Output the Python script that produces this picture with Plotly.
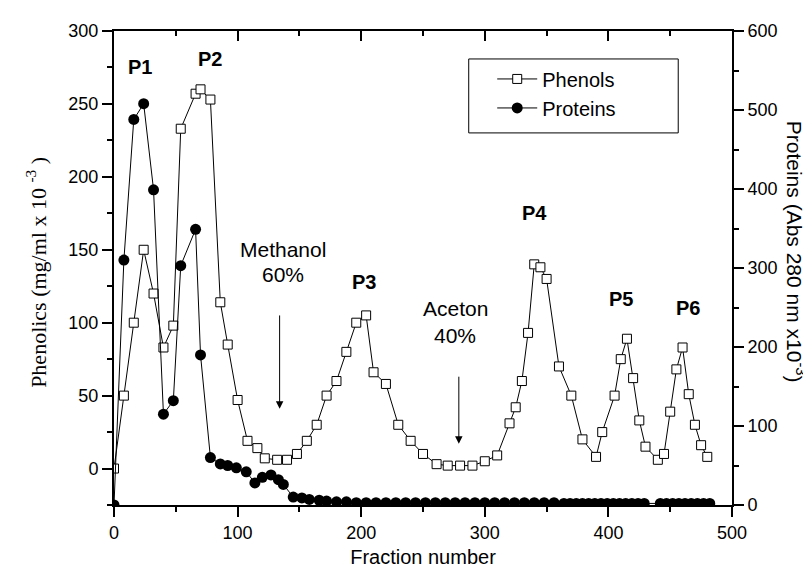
import plotly.graph_objects as go

# Phenols (open squares) - left axis
phen_x = [0, 8, 16, 24, 32, 40, 48, 54, 66, 70, 78, 86, 92, 100, 108, 116, 122, 132, 140,
          148, 156, 164, 172, 180, 188, 196, 204, 210, 220, 230, 240, 250, 261, 270, 280,
          290, 300, 310, 320, 325, 330, 335, 340, 345, 350, 360, 370, 379, 390, 395, 405,
          410, 415, 420, 425, 430, 440, 445, 450, 455, 460, 465, 470, 475, 480]
phen_y = [0, 50, 100, 150, 120, 83, 98, 233, 257, 260, 253, 114, 85, 47, 19, 14, 7, 6, 6,
          10, 19, 30, 50, 60, 80, 100, 105, 66, 58, 30, 19, 10, 3, 2, 2,
          2, 5, 9, 31, 42, 60, 93, 140, 138, 130, 70, 50, 20, 8, 25, 50,
          75, 89, 62, 33, 15, 6, 10, 39, 68, 83, 51, 30, 16, 8]

# Proteins (filled circles) - right axis
prot_x = [0, 8, 16, 24, 32, 40, 48, 54, 66, 70, 78, 86, 92, 99, 107, 114, 120, 127, 133, 137,
          145, 152, 158, 166, 172, 180, 188, 196, 204, 212, 220, 228, 236, 244, 252, 260,
          268, 276, 284, 292, 300, 308, 316, 324, 332, 340, 348, 356,
          364, 369, 374, 379, 384, 389, 394, 399, 404, 409, 414, 419, 424, 429,
          442, 447, 452, 457, 462, 467, 472, 477, 482]
prot_y = [0, 310, 488, 508, 399, 115, 132, 303, 349, 190, 60, 52, 50, 47, 42, 28, 35, 38, 32, 26,
          10, 9, 7, 6, 5, 4, 4, 3, 3, 3, 3, 3, 3, 3, 3, 3,
          3, 3, 3, 3, 3, 3, 3, 3, 3, 3, 3, 3,
          2, 2, 2, 2, 2, 2, 2, 2, 2, 2, 2, 2, 2, 2,
          2, 2, 2, 2, 2, 2, 2, 2, 2]

peak_labels = ["P1", "P2", "P3", "P4", "P5", "P6"]
peak_x = [21, 78, 202, 340, 410, 464]
peak_y = [275, 281, 128, 175, 116, 110]

FONT = "Liberation Sans, Arial, sans-serif"

fig = go.Figure()
fig.add_trace(go.Scatter(
    x=phen_x, y=phen_y, name="Phenols", mode="lines+markers", legendgroup="a",
    line=dict(color="black", width=1),
    marker=dict(symbol="square", size=9, color="white", line=dict(color="black", width=1)),
))
fig.add_trace(go.Scatter(
    x=prot_x, y=prot_y, name="Proteins", mode="lines+markers", yaxis="y2", legendgroup="b",
    line=dict(color="black", width=1),
    marker=dict(symbol="circle", size=11, color="black"),
))

axis_common = dict(showline=True, linecolor="black", linewidth=2, ticks="outside",
                   ticklen=10, tickwidth=1.5, tickcolor="black", showgrid=False, zeroline=False,
                   tickfont=dict(family=FONT, size=18, color="black"))
minor_common = dict(ticklen=5, tickcolor="black", tickwidth=1.5, ticks="outside")

fig.update_layout(
    width=811, height=569,
    margin=dict(l=106, r=87, t=23, b=72),
    paper_bgcolor="white", plot_bgcolor="white",
    showlegend=True,
    xaxis=dict(range=[0, 500], dtick=100,
               minor=dict(dtick=50, **minor_common),
               title=dict(text="Fraction number", font=dict(family=FONT, size=20, color="black"), standoff=8),
               **axis_common),
    xaxis2=dict(range=[0, 500], dtick=100, overlaying="x", side="top", matches="x",
                showline=True, linecolor="black", linewidth=2, ticks="inside", ticklen=10,
                tickwidth=1.5, tickcolor="black", showticklabels=False, showgrid=False, zeroline=False,
                minor=dict(dtick=50, ticklen=5, tickcolor="black", tickwidth=1.5, ticks="inside")),
    yaxis=dict(range=[-25, 300], dtick=50, tick0=0,
               minor=dict(dtick=25, **minor_common),
               **axis_common),
    yaxis2=dict(range=[0, 600], dtick=100, overlaying="y", side="right",
                minor=dict(dtick=50, **minor_common),
                **axis_common),
    legend=dict(x=0.612, y=0.94, xanchor="left", yanchor="top", bgcolor="rgba(0,0,0,0)",
                borderwidth=0, font=dict(family=FONT, size=20, color="black"),
                tracegroupgap=0, itemwidth=40),
)

# invisible helper so the top axis is drawn
fig.add_trace(go.Scatter(x=[0, 500], y=[None, None], xaxis="x2", yaxis="y",
                         mode="lines", showlegend=False, hoverinfo="skip"))

# legend frame
fig.add_shape(type="rect", xref="paper", yref="paper", x0=0.574, x1=0.913, y0=0.785, y1=0.941,
              line=dict(color="black", width=1), fillcolor="rgba(0,0,0,0)")

for t, x, y in zip(peak_labels, peak_x, peak_y):
    fig.add_annotation(x=x, y=y, text="<b>%s</b>" % t, showarrow=False,
                       font=dict(family=FONT, size=20, color="black"))

ann_font = dict(family=FONT, size=21, color="black")
fig.add_annotation(x=137, y=150, text="Methanol", showarrow=False, font=ann_font)
fig.add_annotation(x=137, y=133, text="60%", showarrow=False, font=ann_font)
fig.add_annotation(x=276, y=110, text="Aceton", showarrow=False, font=ann_font)
fig.add_annotation(x=276, y=91, text="40%", showarrow=False, font=ann_font)

# arrows
fig.add_annotation(x=134, y=41, ax=134, ay=106, xref="x", yref="y", axref="x", ayref="y",
                   showarrow=True, arrowhead=2, arrowsize=1.5, arrowwidth=1, arrowcolor="black", text="")
fig.add_annotation(x=279, y=17, ax=279, ay=64, xref="x", yref="y", axref="x", ayref="y",
                   showarrow=True, arrowhead=2, arrowsize=1.5, arrowwidth=1, arrowcolor="black", text="")

# axis titles
fig.add_annotation(xref="paper", yref="paper", x=-0.126, y=0.49, xanchor="center", yanchor="middle",
                   text="Phenolics (mg/ml x 10 <sup>-3</sup> )", textangle=-90, showarrow=False,
                   font=dict(family="Liberation Serif, Times New Roman, serif", size=22, color="black"))
fig.add_annotation(xref="paper", yref="paper", x=1.103, y=0.535, xanchor="center", yanchor="middle",
                   text="Proteins (Abs 280 nm x10<sup>-3</sup>)", textangle=90, showarrow=False,
                   font=dict(family=FONT, size=21, color="black"))

fig.write_html("out.html")
